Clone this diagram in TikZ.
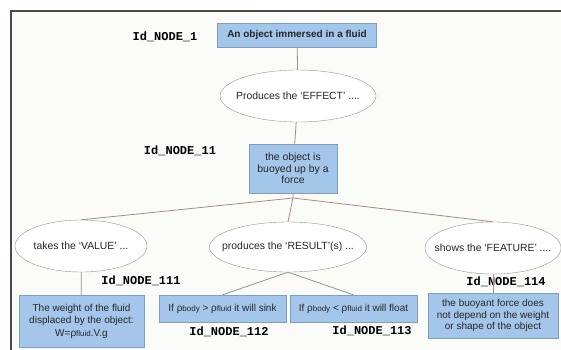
\documentclass[tikz,border=0pt]{standalone}
\usepackage{fontspec}
\setmainfont{Liberation Sans}
\newfontfamily\idfont{Liberation Mono}
\usepackage{xcolor}
\usetikzlibrary{shapes.geometric}
\definecolor{boxfill}{HTML}{A3C6EA}
\definecolor{boxline}{HTML}{7D9FC4}
\definecolor{ovalline}{HTML}{9A9490}
\definecolor{wire}{HTML}{A08E84}
\definecolor{paper}{HTML}{FBFBF7}
\definecolor{frameline}{HTML}{4A4A4A}
\definecolor{ink}{HTML}{262626}
\newcommand{\smallsub}[1]{{\fontsize{8}{9}\selectfont #1}}
\newcommand{\ovaltext}[1]{\makebox[0pt]{#1}}

\begin{document}
\begin{tikzpicture}[
        concept/.style = {draw = boxline, fill = boxfill, rectangle, inner sep = 0pt, align = center,
            text = ink, font = \fontsize{10}{11.5}\selectfont},
        oval/.style = {draw = ovalline, fill = white, ellipse, inner sep = 0pt, text = ink,
            font = \fontsize{10.4}{12}\selectfont},
        idlabel/.style = {text = black, font = \idfont\bfseries\fontsize{12}{14}\selectfont},
        wires/.style = {draw = wire, line width = 0.8pt}
    ]
        \useasboundingbox (0pt, 0pt) rectangle (561pt, -349pt);

        % Frame
        \fill [paper] (11pt, -11pt) rectangle (575pt, -365pt);
        \draw [frameline, line width = 1.5pt] (11pt, -365pt) -- (11pt, -11pt) -- (575pt, -11pt);

        % Nodes
        \node [concept, minimum width = 159pt, minimum height = 24pt, font = \bfseries\fontsize{10}{12}\selectfont] (a) at (297pt, -35pt) {An object immersed in a fluid};
        \node [oval, minimum width = 156pt, minimum height = 52pt] (b) at (298pt, -96pt) {\ovaltext{Produces the `EFFECT' ....}};
        \node [concept, minimum width = 88pt, minimum height = 49pt, font = \fontsize{10.4}{11.5}\selectfont] (c) at (293pt, -168.5pt) {the object is\\buoyed up by a\\force};
        \coordinate (s) at (293pt, -198pt);
        \node [oval, minimum width = 132pt, minimum height = 52pt] (d) at (81pt, -246pt) {\ovaltext{takes the `VALUE' ...}};
        \node [oval, minimum width = 157pt, minimum height = 50pt] (e) at (288pt, -247pt) {\ovaltext{produces the `RESULT'(s) ...}};
        \node [oval, minimum width = 136pt, minimum height = 52pt] (f) at (493pt, -248pt) {\ovaltext{shows the `FEATURE' ....}};
        \node [concept, minimum width = 125pt, minimum height = 52pt, font = \fontsize{10}{12.5}\selectfont] (g) at (81.5pt, -321pt) {The weight of the fluid\\displaced by the object:\\W=ρ\smallsub{fluid}.V.g};
        \node [concept, minimum width = 127pt, minimum height = 27pt] (h) at (222.5pt, -308.5pt) {If ρ\smallsub{body} > ρ\smallsub{fluid} it will sink};
        \node [concept, minimum width = 127pt, minimum height = 27pt] (i) at (353.5pt, -308.5pt) {If ρ\smallsub{body} < ρ\smallsub{fluid} it will float};
        \node [concept, minimum width = 130pt, minimum height = 45pt] (j) at (493pt, -315.5pt) {the buoyant force does\\not depend on the weight\\or shape of the object};

        % Ids
        \node [idlabel] at (165pt, -37pt) {Id\_NODE\_1};
        \node [idlabel] at (180pt, -151pt) {Id\_NODE\_11};
        \node [idlabel] at (141pt, -281pt) {Id\_NODE\_111};
        \node [idlabel] at (229pt, -332pt) {Id\_NODE\_112};
        \node [idlabel] at (372pt, -331pt) {Id\_NODE\_113};
        \node [idlabel] at (506pt, -282pt) {Id\_NODE\_114};

        % Lines
        \draw [wires] (a) -- (b) -- (c) -- (s);
        \draw [wires] (s) -- (d.north);
        \draw [wires] (s) -- (e.north);
        \draw [wires] (s) -- (f.north);
        \draw [wires] (d) -- (g);
        \draw [wires] (e.south) -- (h.north);
        \draw [wires] (e.south) -- (i.north);
        \draw [wires] (f) -- (j);

    \end{tikzpicture}
\end{document}
